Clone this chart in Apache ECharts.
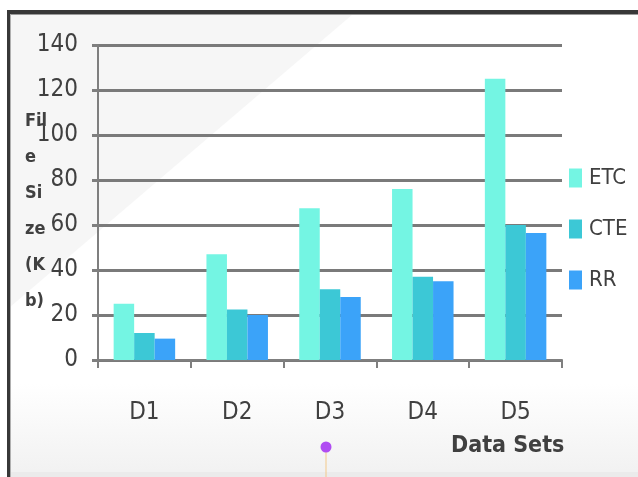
<!DOCTYPE html>
<html>
<head>
<meta charset="utf-8">
<script src="https://cdn.jsdelivr.net/npm/echarts@6/dist/echarts.min.js"></script>
<style>
html,body{margin:0;padding:0;background:#fff;}
#c{width:638px;height:477px;}
</style>
</head>
<body>
<div id="c"></div>
<script>
const categories = ['D1', 'D2', 'D3', 'D4', 'D5'];
const seriesNames = ['ETC', 'CTE', 'RR'];
const etcValues = [25, 47, 67.5, 76, 125];
const cteValues = [12, 22.5, 31.5, 37, 60];
const rrValues = [9.5, 20, 28, 35, 56.5];
const yTicks = { min: 0, max: 140, interval: 20 };
const yAxisTitle = 'Fil\ne\nSi\nze\n(K\nb)';
const xAxisTitle = 'Data Sets';

const FONT = '"Liberation Sans Narrow", "DejaVu Sans Condensed", sans-serif';
const colors = ['#74F5E3', '#3CC8D6', '#3BA3F9'];

const chart = echarts.init(document.getElementById('c'), null, { renderer: 'canvas' });

const barSeries = [etcValues, cteValues, rrValues].map((vals, i) => ({
  name: seriesNames[i],
  type: 'bar',
  data: vals,
  barWidth: 20.5,
  barGap: '0%',
  barCategoryGap: '33%',
  itemStyle: { color: colors[i] },
  z: 3
}));

chart.setOption({
  animation: false,
  backgroundColor: '#ffffff',
  graphic: [
    { type: 'rect', z: -100, shape: { x: 7, y: 10, width: 631, height: 467 },
      style: { fill: new echarts.graphic.LinearGradient(0, 0, 0, 1, [
        { offset: 0, color: '#ffffff' },
        { offset: 0.8, color: '#ffffff' },
        { offset: 1, color: '#f1f1f1' }
      ]) } },
    { type: 'polygon', z: -99, shape: { points: [[10, 14], [353, 14], [10, 307]] },
      style: { fill: '#f6f6f6' } },
    { type: 'rect', z: -98, shape: { x: 7, y: 472, width: 631, height: 5 }, style: { fill: '#ebebeb' } },
    { type: 'rect', z: 50, shape: { x: 7, y: 10, width: 631, height: 4 }, style: { fill: '#383838' } },
    { type: 'rect', z: 50, shape: { x: 7, y: 14, width: 631, height: 1 }, style: { fill: '#9a9a9a' } },
    { type: 'rect', z: 50, shape: { x: 7, y: 10, width: 3, height: 467 }, style: { fill: '#383838' } },
    { type: 'rect', z: 50, shape: { x: 10, y: 14, width: 1, height: 463 }, style: { fill: '#b0b0b0' } },
    { type: 'line', z: 40, shape: { x1: 326, y1: 452, x2: 326, y2: 477 }, style: { stroke: '#f3c98a', lineWidth: 1 } },
    { type: 'circle', z: 41, shape: { cx: 326, cy: 447, r: 5.5 }, style: { fill: '#b04cf2' } }
  ],
  title: [
    { text: yAxisTitle, left: 25, top: 103, padding: 0,
      textStyle: { fontFamily: FONT, fontSize: 18, fontWeight: 'bold', color: '#404040', lineHeight: 36 } },
    { text: xAxisTitle, left: 451, top: 435, padding: 0,
      textStyle: { fontFamily: FONT, fontSize: 23, fontWeight: 'bold', color: '#404040' } }
  ],
  legend: {
    orient: 'vertical',
    left: 569,
    top: 167,
    itemWidth: 13,
    itemHeight: 19,
    itemGap: 29,
    icon: 'rect',
    padding: 0,
    data: seriesNames,
    textStyle: { fontFamily: FONT, fontSize: 22, color: '#404040', padding: [0, 0, 0, 2] }
  },
  grid: { left: 98, right: 76, top: 45, bottom: 117, containLabel: false },
  xAxis: {
    type: 'category',
    data: categories,
    boundaryGap: true,
    axisLine: { show: true, lineStyle: { color: '#7f7f7f', width: 2 } },
    axisTick: { show: true, length: 8, lineStyle: { color: '#7f7f7f', width: 2 } },
    axisLabel: { margin: 41, fontFamily: FONT, fontSize: 24, color: '#404040' },
    splitLine: { show: false }
  },
  yAxis: {
    type: 'value',
    min: yTicks.min,
    max: yTicks.max,
    interval: yTicks.interval,
    axisLine: { show: true, lineStyle: { color: '#7f7f7f', width: 2 } },
    axisTick: { show: true, length: 6, lineStyle: { color: '#7f7f7f', width: 3 } },
    axisLabel: { margin: 20, fontFamily: FONT, fontSize: 24, color: '#404040' },
    splitLine: { show: true, lineStyle: { color: '#7a7a7a', width: 3 } }
  },
  series: barSeries
});
</script>
</body>
</html>
